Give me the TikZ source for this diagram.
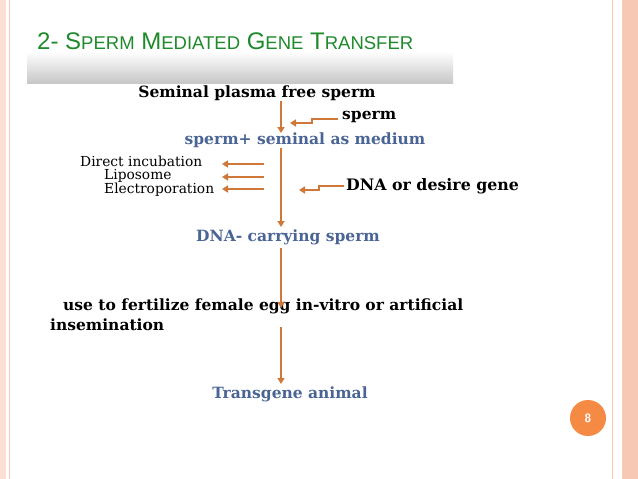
\documentclass[tikz,border=0pt]{standalone}
\usepackage{fontspec}
\setmainfont{DejaVu Serif}
\newfontfamily\titlefont{Liberation Sans}
\usetikzlibrary{arrows.meta}
\definecolor{arr}{HTML}{D0783A}
\definecolor{blu}{HTML}{4A6496}
\definecolor{grn}{HTML}{1E8A2A}
\definecolor{peach}{HTML}{F7C9B4}
\definecolor{orng}{HTML}{F58A45}
\begin{document}
\begin{tikzpicture}[x=1pt,y=-1pt,
  ar/.style={draw=arr,line width=1.5pt,-{Triangle[length=6pt,width=7pt]}},
  bk/.style={font=\bfseries\fontsize{15.5}{17}\selectfont,inner sep=0pt},
  bl/.style={bk,text=blu},
  nm/.style={font=\fontsize{13.8}{15}\selectfont,inner sep=0pt,anchor=west}]
\useasboundingbox (0,0) rectangle (638,479);
\fill[white] (0,0) rectangle (638,479);
% borders
\fill[peach!60] (0,0) rectangle (6,479);
\draw[peach,line width=1pt] (9,0) -- (9,479);
\fill[peach] (622,0) rectangle (638,479);
\draw[peach,line width=1pt] (612,0) -- (612,479);
% title band
\shade[top color=white,bottom color=black!22,middle color=white] (27,20) rectangle (453,83);
\node[anchor=west,text=grn,inner sep=0pt] (title) at (37,41) {\titlefont\fontsize{24}{27}\selectfont 2- S{\fontsize{18.5}{20}\selectfont PERM} M{\fontsize{18.5}{20}\selectfont EDIATED} G{\fontsize{18.5}{20}\selectfont ENE} T{\fontsize{18.5}{20}\selectfont RANSFER}};
% page number
\node[circle,fill=orng,minimum size=36pt,text=white,font=\sffamily\bfseries\fontsize{12}{14}\selectfont] (pg) at (588,418) {8};
% texts
\node[bk] (a) at (257,93) {Seminal plasma free sperm};
\node[bk,anchor=west] (sp) at (342,117) {sperm};
\node[bl] (b) at (305,140) {sperm+ seminal as medium};
\node[nm] (di) at (80,161) {Direct incubation};
\node[nm] (li) at (104,176) {Liposome};
\node[nm] (el) at (104,190) {Electroporation};
\node[bk,anchor=west,font=\bfseries\fontsize{15.8}{17}\selectfont] (dna) at (346,186) {DNA or desire gene};
\node[bl] (c) at (288,237) {DNA- carrying sperm};
\node[bk,anchor=west] (d1) at (63,306) {use to fertilize female egg in-vitro or artificial};
\node[bk,anchor=west] (d2) at (50,325) {insemination};
\node[bl] (e) at (290,394) {Transgene animal};
% coordinates
\coordinate (a1) at (281,101);
\coordinate (a2) at (281,133);
\coordinate (b1) at (281,148);
\coordinate (b2) at (281,227);
\coordinate (c1) at (281,248);
\coordinate (c2) at (281,308);
\coordinate (d3) at (281,327);
\coordinate (e1) at (281,384);
\draw[ar] (a1) -- (a2);
\draw[ar] (b1) -- (b2);
\draw[ar] (c1) -- (c2);
\draw[ar] (d3) -- (e1);
\draw[ar] (sp.west)++(-4,2) -- ++(-26,0) -- ++(0,4) -- ++(-22,0);
\draw[ar] (dna.west)++(-2,0) -- ++(-25,0) -- ++(0,4) -- ++(-20,0);
\coordinate (l1) at (264,164); \coordinate (l2) at (264,177); \coordinate (l3) at (264,189);
\draw[ar] (l1) -- (222,164);
\draw[ar] (l2) -- (222,177);
\draw[ar] (l3) -- (222,189);
\end{tikzpicture}
\end{document}
